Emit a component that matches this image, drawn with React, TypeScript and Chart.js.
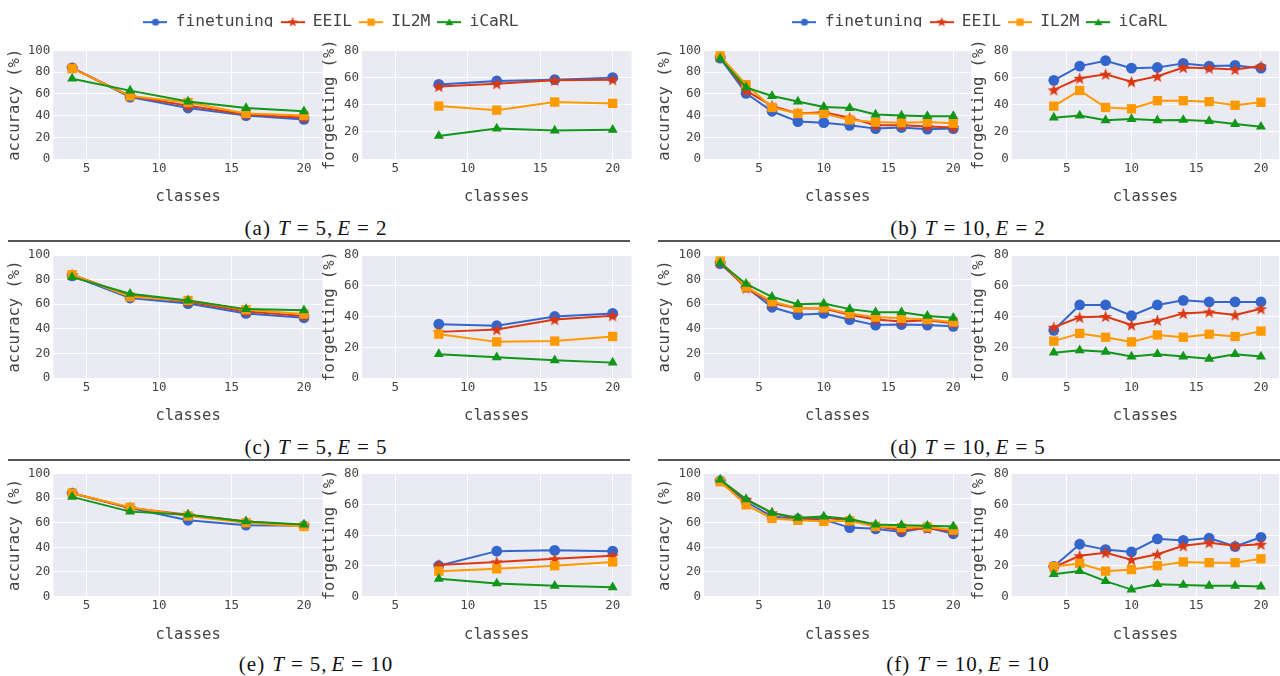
import React, { useEffect, useRef } from 'react';
import { Chart, registerables } from 'chart.js';

Chart.register(...registerables);

// ---------- series / categories ----------
const SERIES = ['finetuning', 'EEIL', 'IL2M', 'iCaRL'];
const COLORS = ['#3366CC', '#DC3912', '#FF9900', '#109618'];

const X_T5_ACC = [4, 8, 12, 16, 20];
const X_T5_FORG = [8, 12, 16, 20];
const X_T10_ACC = [2, 4, 6, 8, 10, 12, 14, 16, 18, 20];
const X_T10_FORG = [4, 6, 8, 10, 12, 14, 16, 18, 20];

const X_TICKS = [5, 10, 15, 20];
const ACC_TICKS = [0, 20, 40, 60, 80, 100];
const FORG_TICKS = [0, 20, 40, 60, 80];

// (a) T=5, E=2
const A_ACC_FT = [84, 57, 47, 40, 36.5];
const A_ACC_EEIL = [84, 58, 49, 41, 38];
const A_ACC_IL2M = [83.5, 58, 52, 42, 40];
const A_ACC_ICARL = [74, 63, 53, 47, 44];
const A_FORG_FT = [55, 57.5, 58.5, 60];
const A_FORG_EEIL = [53.5, 55.5, 58, 58.5];
const A_FORG_IL2M = [39, 36, 42, 41];
const A_FORG_ICARL = [17, 22.5, 21, 21.5];

// (b) T=10, E=2
const B_ACC_FT = [93, 60.5, 44, 34.5, 33.5, 31, 28, 29, 27.5, 28];
const B_ACC_EEIL = [94, 63, 49, 42, 43, 38, 31, 31, 30, 29];
const B_ACC_IL2M = [95, 68.5, 47.5, 42, 42, 36, 34, 33.5, 34, 33];
const B_ACC_ICARL = [92.5, 66, 58, 53, 48, 47, 41, 40, 39.5, 39.5];
const B_FORG_FT = [58, 68.5, 72.5, 67, 67.5, 70.5, 68.5, 69, 67];
const B_FORG_EEIL = [51, 59.5, 62.5, 57, 61, 67.5, 67, 66, 68.5];
const B_FORG_IL2M = [39, 50.5, 38, 37, 43, 43, 42.3, 39.6, 41.8];
const B_FORG_ICARL = [30.5, 32, 28.5, 29.5, 28.5, 28.8, 28, 25.8, 23.8];

// (c) T=5, E=5
const C_ACC_FT = [83, 65, 60.5, 52.5, 49];
const C_ACC_EEIL = [84, 67, 62, 54, 50.5];
const C_ACC_IL2M = [84, 66, 63, 55.5, 52];
const C_ACC_ICARL = [82, 68.5, 63, 56, 55];
const C_FORG_FT = [35, 34, 40, 42];
const C_FORG_EEIL = [30, 31.5, 38, 40.5];
const C_FORG_IL2M = [28.5, 23.5, 24, 27];
const C_FORG_ICARL = [15.5, 13.5, 11.5, 10];

// (d) T=10, E=5
const D_ACC_FT = [93, 74, 57.5, 51.5, 52.5, 47.5, 43, 43.5, 43, 42];
const D_ACC_EEIL = [94, 73, 61, 56.5, 56.5, 51.5, 47.5, 46, 47, 44.5];
const D_ACC_IL2M = [95, 74, 62, 57, 57, 52.5, 49.5, 48.5, 47.5, 45.5];
const D_ACC_ICARL = [93.5, 76.5, 66, 60, 60.5, 56, 53.5, 53.5, 50.5, 49];
const D_FORG_FT = [31, 47.5, 47.5, 40.5, 47.5, 50.5, 49.5, 49.5, 49.5];
const D_FORG_EEIL = [33, 39.5, 40, 34.5, 37.5, 42, 43, 41, 45];
const D_FORG_IL2M = [24, 29, 26.5, 23.5, 28, 26.5, 28.5, 27, 30.5];
const D_FORG_ICARL = [16.5, 18, 17, 14, 15.5, 14, 12.5, 15.5, 14];

// (e) T=5, E=10
const E_ACC_FT = [84, 72, 62, 58, 57.5];
const E_ACC_EEIL = [84, 72, 66.5, 61, 58];
const E_ACC_IL2M = [84, 72.5, 65.5, 60, 57];
const E_ACC_ICARL = [81, 69, 66.5, 61, 58.5];
const E_FORG_FT = [20, 29.5, 30, 29.5];
const E_FORG_EEIL = [20.5, 22.5, 24.5, 26.5];
const E_FORG_IL2M = [16.5, 18, 20, 22.5];
const E_FORG_ICARL = [11.5, 8.5, 7, 6];

// (f) T=10, E=10
const F_ACC_FT = [94, 77, 65, 63, 62.5, 56, 55, 52.5, 56, 51];
const F_ACC_EEIL = [94, 79, 68, 63, 64, 62, 57, 54, 55.5, 53];
const F_ACC_IL2M = [93.5, 74.5, 63.5, 62, 61, 61.5, 57, 56, 56.5, 54];
const F_ACC_ICARL = [95, 79, 68, 64, 65, 63, 58.5, 58, 57.5, 57];
const F_FORG_FT = [19.5, 34, 30.5, 29, 37.5, 36.5, 38, 32.5, 38.5];
const F_FORG_EEIL = [19, 26.5, 28.5, 24, 27.5, 33, 35, 33, 34];
const F_FORG_IL2M = [19.5, 21.5, 16.5, 17.5, 20, 22.5, 22, 22, 24.5];
const F_FORG_ICARL = [14.5, 16.5, 10, 4.5, 8, 7.5, 7, 7, 6.5];

// captions
const CAPTION_LABELS = ['a', 'b', 'c', 'd', 'e', 'f'];
const CAPTION_T = [5, 10, 5, 10, 5, 10];
const CAPTION_E = [2, 2, 5, 5, 10, 10];

// ---------- layout (pixels) ----------
const FONT_MONO = '"DejaVu Sans Mono", monospace';
const TEXT_GRAY = '#444';
const PLOT_BG = '#EAEAF2';
const TICK_SIZE = 12.5;
const TITLE_SIZE = 15.5;
const X_AXIS_H = 47.3;

const ROWS = [
  { top: 50.5, bottom: 159, caption: 228 },
  { top: 255, bottom: 378, caption: 447 },
  { top: 473.5, bottom: 596.5, caption: 664 },
];
const COLS = [
  { bgL: 53.3, bgR: 322.8, titleX: 15, xMin: 2.7, xMax: 21.3 },
  { bgL: 362, bgR: 631.5, titleX: 330, xMin: 2.7, xMax: 21.3 },
  { bgL: 704, bgR: 971.4, titleX: 665, xMin: 0.75, xMax: 21.4 },
  { bgL: 1011.7, bgR: 1279.1, titleX: 979.3, xMin: 0.75, xMax: 21.4 },
];
const CAPTION_X = [316, 968];
const LEGEND_CENTER = [331, 980];

type PanelDef = {
  row: number;
  col: number;
  xs: number[];
  series: number[][];
  acc: boolean;
};

const PANELS: PanelDef[] = [
  { row: 0, col: 0, xs: X_T5_ACC, series: [A_ACC_FT, A_ACC_EEIL, A_ACC_IL2M, A_ACC_ICARL], acc: true },
  { row: 0, col: 1, xs: X_T5_FORG, series: [A_FORG_FT, A_FORG_EEIL, A_FORG_IL2M, A_FORG_ICARL], acc: false },
  { row: 0, col: 2, xs: X_T10_ACC, series: [B_ACC_FT, B_ACC_EEIL, B_ACC_IL2M, B_ACC_ICARL], acc: true },
  { row: 0, col: 3, xs: X_T10_FORG, series: [B_FORG_FT, B_FORG_EEIL, B_FORG_IL2M, B_FORG_ICARL], acc: false },
  { row: 1, col: 0, xs: X_T5_ACC, series: [C_ACC_FT, C_ACC_EEIL, C_ACC_IL2M, C_ACC_ICARL], acc: true },
  { row: 1, col: 1, xs: X_T5_FORG, series: [C_FORG_FT, C_FORG_EEIL, C_FORG_IL2M, C_FORG_ICARL], acc: false },
  { row: 1, col: 2, xs: X_T10_ACC, series: [D_ACC_FT, D_ACC_EEIL, D_ACC_IL2M, D_ACC_ICARL], acc: true },
  { row: 1, col: 3, xs: X_T10_FORG, series: [D_FORG_FT, D_FORG_EEIL, D_FORG_IL2M, D_FORG_ICARL], acc: false },
  { row: 2, col: 0, xs: X_T5_ACC, series: [E_ACC_FT, E_ACC_EEIL, E_ACC_IL2M, E_ACC_ICARL], acc: true },
  { row: 2, col: 1, xs: X_T5_FORG, series: [E_FORG_FT, E_FORG_EEIL, E_FORG_IL2M, E_FORG_ICARL], acc: false },
  { row: 2, col: 2, xs: X_T10_ACC, series: [F_ACC_FT, F_ACC_EEIL, F_ACC_IL2M, F_ACC_ICARL], acc: true },
  { row: 2, col: 3, xs: X_T10_FORG, series: [F_FORG_FT, F_FORG_EEIL, F_FORG_IL2M, F_FORG_ICARL], acc: false },
];

// ---------- marker drawing helpers ----------
function drawMarkerShape(ctx: CanvasRenderingContext2D, kind: number, cx: number, cy: number, s: number) {
  ctx.beginPath();
  if (kind === 0) {
    ctx.arc(cx, cy, s, 0, Math.PI * 2);
  } else if (kind === 1) {
    const outer = s * 1.25;
    const inner = outer * 0.42;
    for (let i = 0; i < 10; i++) {
      const r = i % 2 === 0 ? outer : inner;
      const a = -Math.PI / 2 + (i * Math.PI) / 5;
      const px = cx + r * Math.cos(a);
      const py = cy + r * Math.sin(a);
      if (i === 0) ctx.moveTo(px, py);
      else ctx.lineTo(px, py);
    }
    ctx.closePath();
  } else if (kind === 2) {
    ctx.rect(cx - s, cy - s, 2 * s, 2 * s);
  } else {
    const r = s * 1.1;
    ctx.moveTo(cx, cy - r);
    ctx.lineTo(cx + r * 0.866, cy + r * 0.5);
    ctx.lineTo(cx - r * 0.866, cy + r * 0.5);
    ctx.closePath();
  }
  ctx.fill();
}

function makeStar(color: string, size: number): HTMLCanvasElement {
  const c = document.createElement('canvas');
  c.width = size;
  c.height = size;
  const ctx = c.getContext('2d')!;
  ctx.fillStyle = color;
  drawMarkerShape(ctx, 1, size / 2, size / 2 + 0.6, size / 2 / 1.25);
  return c;
}

function makeLegendIcon(kind: number, color: string): HTMLCanvasElement {
  const w = 24;
  const h = 14;
  const c = document.createElement('canvas');
  c.width = w;
  c.height = h;
  const ctx = c.getContext('2d')!;
  ctx.strokeStyle = color;
  ctx.lineWidth = 2;
  ctx.beginPath();
  ctx.moveTo(0, h / 2);
  ctx.lineTo(w, h / 2);
  ctx.stroke();
  ctx.fillStyle = color;
  const sizes = [3.6, 4.2, 3.6, 4.2];
  drawMarkerShape(ctx, kind, w / 2, h / 2 + (kind === 3 ? 0.8 : 0), sizes[kind]);
  return c;
}

const bgPlugin = {
  id: 'plotBg',
  beforeDraw(chart: any) {
    const { ctx, chartArea } = chart;
    if (!chartArea) return;
    ctx.save();
    ctx.fillStyle = PLOT_BG;
    ctx.fillRect(chartArea.left, chartArea.top, chartArea.right - chartArea.left, chartArea.bottom - chartArea.top);
    ctx.restore();
  },
};

// ---------- panel ----------
function Panel({ def }: { def: PanelDef }) {
  const ref = useRef<HTMLCanvasElement>(null);
  const row = ROWS[def.row];
  const col = COLS[def.col];
  const titleHalf = (TITLE_SIZE * 1.2) / 2;
  const cl = Math.floor(col.titleX - titleHalf - 2);
  const titlePadTop = col.titleX - titleHalf - cl;
  const ct = Math.floor(row.top - 12);
  const padTop = row.top - ct;
  const yW = col.bgL - cl;
  const plotH = row.bottom - row.top;
  const cw = Math.ceil(col.bgR - cl + 14);
  const padRight = cw - (col.bgR - cl);
  const ch = Math.ceil(padTop + plotH + X_AXIS_H + 2);
  const padBottom = ch - padTop - plotH - X_AXIS_H;

  useEffect(() => {
    const star = makeStar(COLORS[1], 13);
    const styles: any[] = ['circle', star, 'rect', 'triangle'];
    const radii = [5.4, 6.5, 6.6, 5.8];
    const yTicks = def.acc ? ACC_TICKS : FORG_TICKS;
    const chart = new Chart(ref.current!, {
      type: 'line',
      data: {
        datasets: def.series.map((vals, i) => ({
          label: SERIES[i],
          data: def.xs.map((x, j) => ({ x, y: vals[j] })),
          borderColor: COLORS[i],
          backgroundColor: COLORS[i],
          borderWidth: 2,
          pointStyle: styles[i],
          pointRadius: radii[i],
          pointBorderWidth: 0,
          pointBackgroundColor: COLORS[i],
          tension: 0,
          order: 4 - i,
          clip: false as any,
        })),
      },
      options: {
        responsive: false,
        animation: false,
        devicePixelRatio: 1,
        events: [],
        layout: { padding: { top: padTop, right: padRight, bottom: padBottom, left: 0 } },
        plugins: { legend: { display: false }, tooltip: { enabled: false } },
        scales: {
          x: {
            type: 'linear',
            min: col.xMin,
            max: col.xMax,
            afterBuildTicks: (s: any) => {
              s.ticks = X_TICKS.map((v) => ({ value: v }));
            },
            afterFit: (s: any) => {
              s.height = X_AXIS_H;
            },
            grid: { color: '#ffffff', lineWidth: 1, drawTicks: false },
            border: { display: false },
            ticks: { padding: 2, color: TEXT_GRAY, font: { family: FONT_MONO, size: TICK_SIZE }, maxRotation: 0 },
            title: {
              display: true,
              text: 'classes',
              color: TEXT_GRAY,
              font: { family: FONT_MONO, size: TITLE_SIZE },
              padding: { top: 0, bottom: 0 },
            },
          },
          y: {
            type: 'linear',
            min: 0,
            max: def.acc ? 100 : 80,
            afterBuildTicks: (s: any) => {
              s.ticks = yTicks.map((v) => ({ value: v }));
            },
            afterFit: (s: any) => {
              s.width = yW;
            },
            grid: { color: '#ffffff', lineWidth: 1, drawTicks: false },
            border: { display: false },
            ticks: { padding: 3, color: TEXT_GRAY, font: { family: FONT_MONO, size: TICK_SIZE } },
            title: {
              display: true,
              text: def.acc ? 'accuracy (%)' : 'forgetting (%)',
              color: TEXT_GRAY,
              font: { family: FONT_MONO, size: TITLE_SIZE },
              padding: { top: titlePadTop, bottom: 0 },
            },
          },
        },
      } as any,
      plugins: [bgPlugin],
    });
    return () => chart.destroy();
  }, []);

  return (
    <canvas
      ref={ref}
      width={cw}
      height={ch}
      style={{ position: 'absolute', left: cl, top: ct, width: cw, height: ch }}
    />
  );
}

// ---------- legend ----------
function Legend({ center }: { center: number }) {
  const ref = useRef<HTMLCanvasElement>(null);
  const w = 600;
  const h = 40;
  useEffect(() => {
    const icons = SERIES.map((_, i) => makeLegendIcon(i, COLORS[i]));
    const chart = new Chart(ref.current!, {
      type: 'line',
      data: { datasets: SERIES.map((name, i) => ({ label: name, data: [], borderColor: COLORS[i] })) },
      options: {
        responsive: false,
        animation: false,
        devicePixelRatio: 1,
        events: [],
        layout: { padding: 0 },
        scales: { x: { display: false }, y: { display: false } },
        plugins: {
          tooltip: { enabled: false },
          legend: {
            display: true,
            position: 'top',
            align: 'center',
            labels: {
              usePointStyle: true,
              pointStyleWidth: 24,
              boxHeight: 14,
              padding: 7,
              color: TEXT_GRAY,
              font: { family: FONT_MONO, size: 16.3 },
              generateLabels: () =>
                SERIES.map((name, i) => ({
                  text: name,
                  pointStyle: icons[i],
                  fillStyle: COLORS[i],
                  strokeStyle: COLORS[i],
                  lineWidth: 0,
                  hidden: false,
                  datasetIndex: i,
                  fontColor: TEXT_GRAY,
                })),
            },
          },
        },
      } as any,
    });
    return () => chart.destroy();
  }, []);
  return (
    <canvas
      ref={ref}
      width={w}
      height={h}
      style={{ position: 'absolute', left: center - w / 2, top: 7, width: w, height: h }}
    />
  );
}

function Caption({ idx }: { idx: number }) {
  const x = CAPTION_X[idx % 2];
  const y = ROWS[Math.floor(idx / 2)].caption;
  return (
    <div
      style={{
        position: 'absolute',
        left: x,
        top: y - 13,
        transform: 'translateX(-50%)',
        font: '21px "Liberation Serif", serif',
        lineHeight: '26px',
        letterSpacing: '1px',
        whiteSpace: 'nowrap',
        color: '#111',
      }}
    >
      <span>({CAPTION_LABELS[idx]})</span>
      <i style={{ marginLeft: 7 }}>T</i>
      <span style={{ margin: '0 6px' }}>=</span>
      <span>{CAPTION_T[idx]},</span>
      <i style={{ marginLeft: 4 }}>E</i>
      <span style={{ margin: '0 6px' }}>=</span>
      <span>{CAPTION_E[idx]}</span>
    </div>
  );
}

export default function App() {
  return (
    <div
      style={{
        position: 'absolute',
        left: 0,
        top: 0,
        width: 1280,
        height: 676,
        overflow: 'hidden',
        background: '#ffffff',
      }}
    >
      <Legend center={LEGEND_CENTER[0]} />
      <Legend center={LEGEND_CENTER[1]} />
      {PANELS.map((p, i) => (
        <Panel key={i} def={p} />
      ))}
      {CAPTION_LABELS.map((_, i) => (
        <Caption key={i} idx={i} />
      ))}
      <div style={{ position: 'absolute', left: 8, top: 240, width: 622, height: 2, background: '#555' }} />
      <div style={{ position: 'absolute', left: 658, top: 240, width: 622, height: 2, background: '#555' }} />
      <div style={{ position: 'absolute', left: 8, top: 459, width: 622, height: 2, background: '#555' }} />
      <div style={{ position: 'absolute', left: 658, top: 459, width: 622, height: 2, background: '#555' }} />
    </div>
  );
}
